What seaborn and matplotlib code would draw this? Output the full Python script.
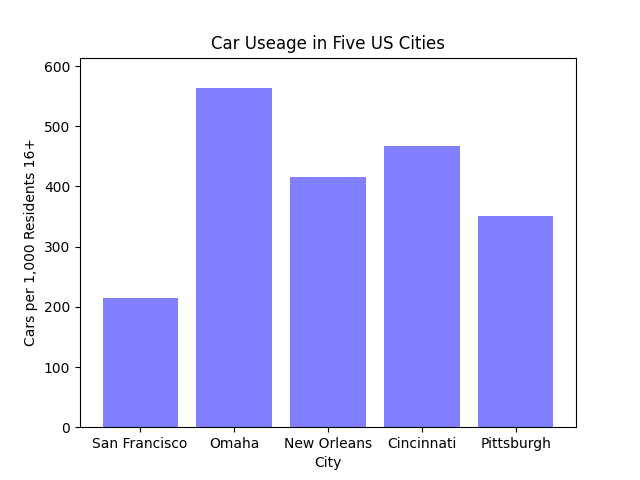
import pandas as pd
import seaborn as sns
import matplotlib
matplotlib.use("Agg")
import matplotlib.pyplot as plt

cities = ["San Francisco", "Omaha", "New Orleans", "Cincinnati", "Pittsburgh"]
cars = [214, 564, 416, 467, 351]

df = pd.DataFrame({"City": cities, "Cars per 1,000 Residents 16+": cars})

fig, ax = plt.subplots(figsize=(6.4, 4.8), dpi=100)
sns.barplot(data=df, x="City", y="Cars per 1,000 Residents 16+",
            color="blue", alpha=0.5, saturation=1, width=0.8, ax=ax)
ax.set_xlim(-0.64, len(cities) - 1 + 0.64)
ax.set_ylim(0, max(cars) + 50)
ax.set_title("Car Useage in Five US Cities")
fig.savefig("out.png")
